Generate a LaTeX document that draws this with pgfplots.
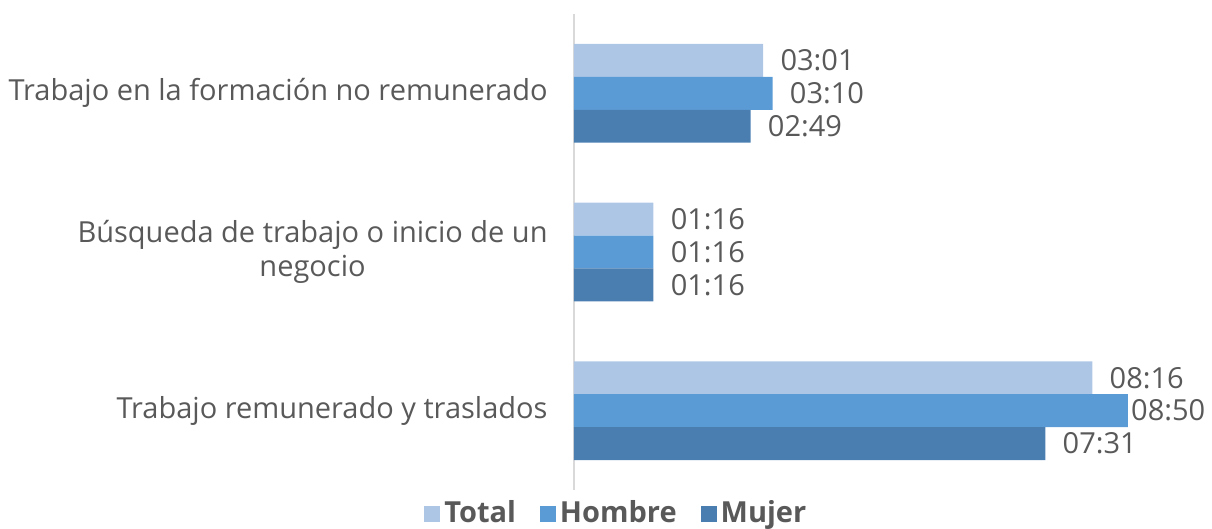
\documentclass[border=0pt]{standalone}
\usepackage{pgfplots}
\usepackage{pgfplotstable}
\pgfplotsset{compat=1.18}
\usepackage{fontspec}
\setmainfont{Open Sans}
\definecolor{cTotal}{RGB}{173,198,230}
\definecolor{cHombre}{RGB}{91,155,213}
\definecolor{cMujer}{RGB}{74,126,176}
\definecolor{txt}{RGB}{89,89,89}
\definecolor{axl}{RGB}{217,217,217}
\pgfplotstableread{
y val lab off
2 181 03:01 8.5
1 76 01:16 8.5
0 496 08:16 8.5
}\tTotal
\pgfplotstableread{
y val lab off
2 190 03:10 8.5
1 76 01:16 8.5
0 530 08:50 1.5
}\tHombre
\pgfplotstableread{
y val lab off
2 169 02:49 8.5
1 76 01:16 8.5
0 451 07:31 8.5
}\tMujer
\begin{document}
\fontsize{14.5pt}{17pt}\selectfont
\begin{tikzpicture}
\begin{axis}[
  at={(0,0)}, anchor=south west,
  scale only axis, width=313.5pt, height=238pt,
  xmin=0, xmax=600, ymin=-0.5, ymax=2.5,
  hide x axis,
  axis y line*=left,
  y axis line style={draw=axl, line width=1pt, -},
  ytick={0,1,2},
  yticklabels={Trabajo remunerado y traslados, {Búsqueda de trabajo o inicio de un\\negocio}, Trabajo en la formación no remunerado},
  yticklabel style={align=center, inner sep=0pt, xshift=-13pt, text=txt, font=\fontsize{14.5pt}{17pt}\selectfont},
  major tick length=0pt,
  xbar, bar width=0.2075,
  clip=false,
  point meta=explicit symbolic,
  nodes near coords,
  visualization depends on={\thisrow{off} \as \off},
  nodes near coords style={anchor=west, inner sep=0pt, xshift=\off pt, text=txt, font=\fontsize{14.5pt}{17pt}\selectfont},
  legend style={at={(0.069,0)}, anchor=north, yshift=-1pt, draw=none, fill=none, legend columns=-1, font=\bfseries\fontsize{14.5pt}{17pt}\selectfont, text=txt,
    /tikz/every odd column/.append style={column sep=0pt},
    /tikz/every even column/.append style={column sep=10pt}},
  legend image code/.code={\fill[#1] (0pt,-4pt) rectangle (8pt,4pt);},
]
\addplot[fill=cTotal, draw=none, bar shift=0.2075] table[x=val, y=y, meta=lab] {\tTotal};
\addplot[fill=cHombre, draw=none, bar shift=0] table[x=val, y=y, meta=lab] {\tHombre};
\addplot[fill=cMujer, draw=none, bar shift=-0.2075] table[x=val, y=y, meta=lab] {\tMujer};
\legend{Total, Hombre, Mujer}
\end{axis}
\pgfresetboundingbox
\useasboundingbox (-287pt,-19.5pt) rectangle (319pt,245pt);
\end{tikzpicture}
\end{document}
